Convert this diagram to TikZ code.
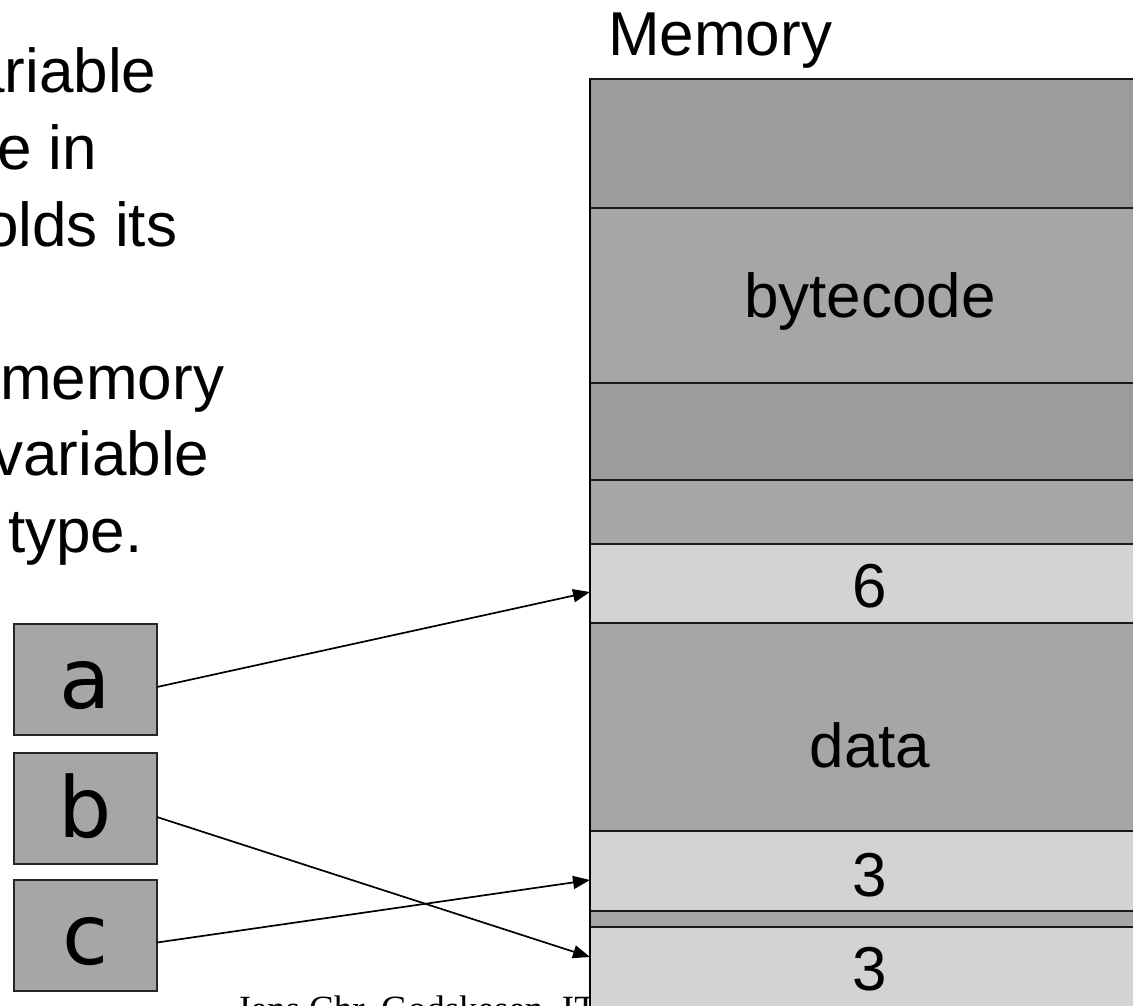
\documentclass[tikz,border=0pt]{standalone}
\usepackage{fontspec}
\setmainfont{Liberation Sans}
\newfontfamily\footfont{Liberation Serif}
\newfontfamily\varfont{DejaVu Sans}
\usetikzlibrary{arrows.meta}
\definecolor{memdark}{HTML}{9C9C9C}
\definecolor{memmid}{HTML}{A6A6A6}
\definecolor{memlight}{HTML}{D3D3D3}
\frenchspacing
\begin{document}
\begin{tikzpicture}[x=1pt,y=-1pt,
  cell/.style={draw=black!90, line width=1.8pt, minimum width=560pt,
    inner sep=0pt, outer sep=0pt, anchor=north west},
  big/.style={font=\fontsize{62}{74}\selectfont, inner sep=0pt},
  varbox/.style={draw=black!85, line width=1.8pt, fill=memmid,
    minimum width=143pt, minimum height=111pt, inner sep=0pt, outer sep=0pt,
    text height=58pt, text depth=0pt,
    font=\varfont\fontsize{84}{90}\selectfont, anchor=north west},
  ptr/.style={-{Triangle[length=17pt,width=13pt]}, line width=1.7pt}
]
\useasboundingbox (0,0) rectangle (1133,1005);
\clip (0,0) rectangle (1133,1005);

% footer line, partly hidden behind the memory column
\node[anchor=base west, inner sep=0pt, font=\footfont\fontsize{37}{40}\selectfont]
  (foot) at (236,1021) {Jens Chr. Godskesen, IT};

% running text on the left
\node[big, anchor=base west] (t1) at (-30,92)   {ariable};
\node[big, anchor=base west] (t2) at (-3,169)   {e in};
\node[big, anchor=base west] (t3) at (-16,246)  {olds its};
\node[big, anchor=base west] (t4) at (0,399)    {memory};
\node[big, anchor=base west] (t5) at (-8,475.5) {variable};
\node[big, anchor=base west] (t6) at (8,552)    {type.};

% memory column
\node[big, anchor=base west] (memlbl) at (608,55) {Memory};
\node[cell, fill=memdark,  minimum height=129pt] (r1) at (590,79)  {};
\node[cell, fill=memmid,   minimum height=175pt] (r2) at (590,208) {};
\node[cell, fill=memdark,  minimum height=97pt]  (r3) at (590,383) {};
\node[cell, fill=memmid,   minimum height=64pt]  (r4) at (590,480) {};
\node[cell, fill=memlight, minimum height=79pt]  (r5) at (590,544) {};
\node[cell, fill=memmid,   minimum height=208pt] (r6) at (590,623) {};
\node[cell, fill=memlight, minimum height=80pt]  (r7) at (590,831) {};
\node[cell, fill=memmid,   minimum height=16pt]  (r8) at (590,911) {};
\node[cell, fill=memlight, minimum height=83pt]  (r9) at (590,927) {};
\draw[line width=2.6pt] (r1.north west) -- (r9.south west);

\node[big, anchor=base] (lbyte) at (870,317) {bytecode};
\node[big, anchor=base] (lsix)  at (870,607) {6};
\node[big, anchor=base] (ldata) at (870,767) {data};
\node[big, anchor=base] (lthA)  at (870,896) {3};
\node[big, anchor=base] (lthB)  at (870,990) {3};

% variables
\node[varbox] (a) at (14,624) {a};
\node[varbox] (b) at (14,753) {b};
\node[varbox] (c) at (14,880) {c};

% references into memory
\draw[ptr] ([yshift=-7.5pt]a.east) -- ([yshift=-8.5pt]r5.west);
\draw[ptr] ([yshift=-8.5pt]b.east) -- ([yshift=11.5pt]r9.west);
\draw[ptr] ([yshift=-7pt]c.east)   -- ([yshift=-9pt]r7.west);
\end{tikzpicture}
\end{document}
